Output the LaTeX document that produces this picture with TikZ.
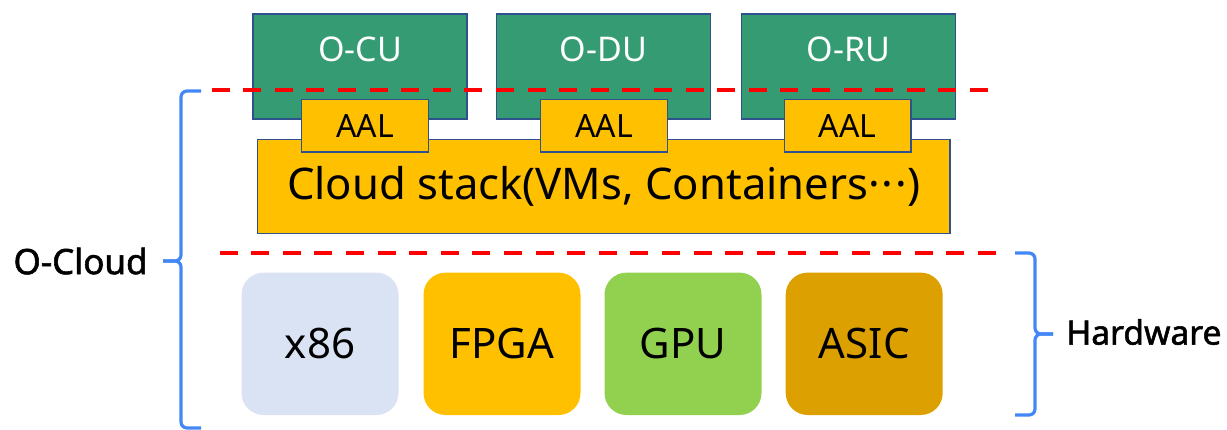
\documentclass[tikz,border=0pt]{standalone}
\usepackage{fontspec}
\setmainfont{Noto Sans}
\newfontfamily\sidefont[FakeBold=1.6]{Noto Sans}
\usepackage{xcolor}
\definecolor{nfgreen}{HTML}{359B73}
\definecolor{edgeblue}{HTML}{2F528F}
\definecolor{gold}{HTML}{FFC000}
\definecolor{paleblue}{HTML}{DAE3F3}
\definecolor{gpugreen}{HTML}{92D050}
\definecolor{asicgold}{HTML}{DCA000}
\definecolor{bracketblue}{HTML}{4287F5}

\begin{document}
\begin{tikzpicture}[x=0.5pt,y=-0.5pt,
	nf/.style={draw=edgeblue,line width=0.75pt,fill=nfgreen,text=white,inner sep=0pt,
		minimum width=107pt,text height=23.8pt,text depth=28.7pt,font=\fontsize{17}{20}\selectfont},
	aal/.style={draw=edgeblue,line width=0.75pt,fill=gold,inner sep=0pt,
		minimum width=63.3pt,minimum height=26.3pt,font=\fontsize{16}{19}\selectfont},
	hw/.style={rounded corners=11pt,inner sep=0pt,minimum width=78.5pt,minimum height=71.2pt,
		font=\fontsize{21}{25}\selectfont},
	sep/.style={draw=red,line width=2pt,dash pattern=on 9pt off 6.8pt},
	bracket/.style={draw=bracketblue,line width=1.6pt,rounded corners=3pt}]
				\useasboundingbox (0,0) rectangle (1227,429);
				% network functions
				\node(cu) at (360,66.5)[nf]{O-CU};
				\node(du) at (603.5,66.5)[nf]{O-DU};
				\node(ru) at (848.5,66.5)[nf]{O-RU};
				\coordinate(s1a) at (202,90.3);
				\coordinate(s1b) at (998,90.3);
				\draw[sep,dash phase=11pt] (s1a) -- (s1b);
				% cloud stack
				\node(stack) at (603.7,186.3)[draw=edgeblue,line width=0.75pt,fill=gold,inner sep=0pt,
					minimum width=346.3pt,minimum height=47pt,font=\fontsize{21.8}{25}\selectfont]{Cloud stack(VMs, Containers·\kern1pt·\kern1pt·)};
				\node(aal1) at (365,125.7)[aal]{AAL};
				\node(aal2) at (604,125.7)[aal]{AAL};
				\node(aal3) at (847.7,125.7)[aal]{AAL};
				\coordinate(s2a) at (212,252.7);
				\coordinate(s2b) at (997,252.7);
				\draw[sep,dash phase=12pt] (s2a) -- (s2b);
				% hardware
				\node(x86) at (320,343.8)[hw,fill=paleblue]{x86};
				\node(fpga) at (502,343.8)[hw,fill=gold]{FPGA};
				\node(gpu) at (683,343.8)[hw,fill=gpugreen]{GPU};
				\node(asic) at (864.2,343.8)[hw,fill=asicgold]{ASIC};
				% brackets
				\coordinate(lt) at (201,91);
				\coordinate(lm) at (163,261);
				\coordinate(lb) at (201,428);
				\draw[bracket] (lt) -| (181,261) -- (lm);
				\draw[bracket] (lm) -- (181,261) |- (lb);
				\node(ocloud) at (148,261)[anchor=east,inner sep=0pt,font=\sidefont\fontsize{17.5}{20}\selectfont]{O-Cloud};
				\coordinate(rt) at (1015,253);
				\coordinate(rm) at (1053,334);
				\coordinate(rb) at (1015,415);
				\draw[bracket] (rt) -| (1035,334) -- (rm);
				\draw[bracket] (rm) -- (1035,334) |- (rb);
				\node(hwlabel) at (1066,332)[anchor=west,inner sep=0pt,font=\sidefont\fontsize{16.8}{19}\selectfont]{Hardware};
			\end{tikzpicture}
\end{document}
